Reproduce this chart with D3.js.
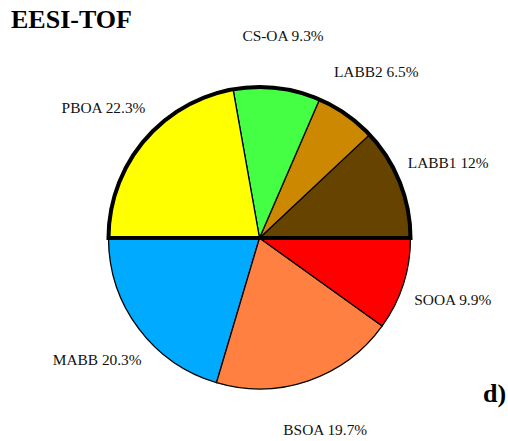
<!DOCTYPE html>
<html>
<head>
<meta charset="utf-8">
<script src="https://cdn.jsdelivr.net/npm/d3@7"></script>
<style>
  html, body { margin: 0; padding: 0; background: #fff; }
  svg { display: block; }
</style>
</head>
<body>
<svg id="chart" width="508" height="441"></svg>
<script>
const categories = ["LABB1", "LABB2", "CS-OA", "PBOA", "MABB", "BSOA", "SOOA"];
const values = [12, 6.5, 9.3, 22.3, 20.3, 19.7, 9.9];
const valueLabels = ["12%", "6.5%", "9.3%", "22.3%", "20.3%", "19.7%", "9.9%"];
const colors = ["#664400", "#CC8800", "#44FF44", "#FFFF00", "#00AAFF", "#FF8040", "#FF0000"];
const title = "EESI-TOF";
const panelLabel = "d)";

const W = 508, H = 441;
const cx = 259.5, cy = 238, R = 151, labelR = 203;

const svg = d3.select("#chart");
const g = svg.append("g").attr("transform", `translate(${cx},${cy})`);

const data = categories.map((c, i) => ({ name: c, value: values[i], label: valueLabels[i], color: colors[i] }));

// counterclockwise starting at 3 o'clock
const pie = d3.pie().sort(null).value(d => d.value)
  .startAngle(Math.PI / 2).endAngle(Math.PI / 2 - 2 * Math.PI);
const arcs = pie(data);

const arc = d3.arc().innerRadius(0).outerRadius(R);
const labelArc = d3.arc().innerRadius(labelR).outerRadius(labelR);

g.selectAll("path.slice").data(arcs).join("path")
  .attr("class", "slice")
  .attr("d", arc)
  .attr("fill", d => d.data.color)
  .attr("stroke", "#000")
  .attr("stroke-width", 1.3)
  .attr("stroke-linejoin", "round");

// thick outline of upper half
g.append("path")
  .attr("d", d3.arc().innerRadius(0).outerRadius(R)({ startAngle: -Math.PI / 2, endAngle: Math.PI / 2 }))
  .attr("fill", "none")
  .attr("stroke", "#000")
  .attr("stroke-width", 4)
  .attr("stroke-linejoin", "miter");

g.selectAll("text.lbl").data(arcs).join("text")
  .attr("class", "lbl")
  .attr("x", d => labelArc.centroid(d)[0])
  .attr("y", d => labelArc.centroid(d)[1])
  .attr("dy", "0.33em")
  .attr("text-anchor", "middle")
  .attr("font-family", "'Liberation Serif', 'Times New Roman', serif")
  .attr("font-size", 15.4)
  .attr("fill", "#111")
  .text(d => `${d.data.name} ${d.data.label}`);

svg.append("text")
  .attr("x", 11).attr("y", 28)
  .attr("font-family", "'Liberation Serif', 'Times New Roman', serif")
  .attr("font-weight", "bold")
  .attr("font-size", 26)
  .attr("fill", "#000")
  .text(title);

svg.append("text")
  .attr("x", 483).attr("y", 402)
  .attr("font-family", "'Liberation Serif', 'Times New Roman', serif")
  .attr("font-weight", "bold")
  .attr("font-size", 26)
  .attr("fill", "#000")
  .text(panelLabel);
</script>
</body>
</html>
